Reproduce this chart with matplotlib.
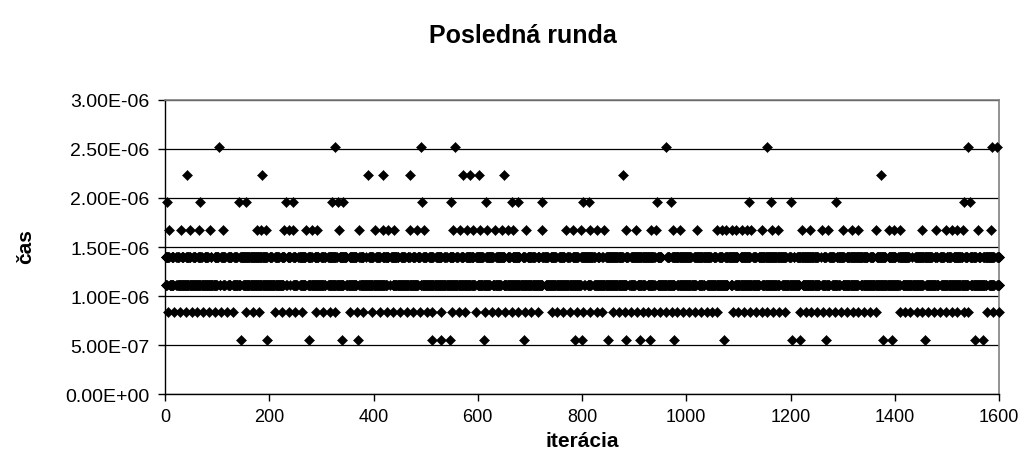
import matplotlib
matplotlib.use("Agg")
import matplotlib.pyplot as plt
from matplotlib.ticker import FuncFormatter, MultipleLocator

plt.rcParams['font.family'] = ['Liberation Sans', 'DejaVu Sans']

# measured times per iteration (seconds), one row per timer step
levels = [5.59e-07, 8.38e-07, 1.117e-06, 1.397e-06,
          1.676e-06, 1.956e-06, 2.235e-06, 2.514e-06]

iter_559 = [145, 195, 276, 339, 370, 512, 529, 547, 611, 689, 787, 800,
            850, 884, 912, 930, 977, 1073, 1202, 1218, 1268, 1378, 1394,
            1458, 1554, 1570]

iter_838 = [6, 17, 29, 40, 51, 62, 73, 85, 96, 107, 118, 130, 155, 168,
            181, 211, 224, 237, 249, 262, 290, 304, 317, 326, 355, 368, 380,
            397, 412, 425, 438, 451, 464, 476, 489, 502, 513, 529, 550, 563,
            576, 597, 614, 627, 639, 652, 665, 678, 691, 703, 716, 742, 751,
            764, 777, 790, 802, 815, 828, 838, 860, 871, 882, 893, 905, 916,
            927, 938, 950, 961, 972, 983, 994, 1006, 1017, 1028, 1039, 1050,
            1059, 1089, 1100, 1111, 1122, 1134, 1145, 1155, 1167, 1178, 1189,
            1218, 1230, 1240, 1251, 1263, 1274, 1285, 1296, 1308, 1319, 1330,
            1341, 1352, 1364, 1409, 1420, 1430, 1442, 1453, 1464, 1475, 1487,
            1498, 1509, 1520, 1532, 1541, 1576, 1589, 1600]

iter_1676 = [8, 30, 48, 66, 86, 112, 177, 185, 194, 228, 237, 246, 270, 281,
             292, 334, 373, 402, 419, 428, 439, 469, 483, 496, 553, 566, 579,
             591, 604, 617, 633, 646, 658, 668, 692, 724, 770, 783, 798, 815,
             828, 842, 885, 903, 932, 942, 975, 988, 1020, 1058, 1068, 1077,
             1087, 1096, 1106, 1116, 1125, 1145, 1164, 1176, 1221, 1237, 1261,
             1272, 1300, 1317, 1330, 1364, 1388, 1398, 1410, 1453, 1479, 1499,
             1509, 1519, 1530, 1559, 1584]

iter_1956 = [4, 68, 141, 155, 232, 246, 320, 331, 341, 493, 548, 616, 665,
             678, 724, 801, 814, 943, 970, 1121, 1163, 1201, 1288, 1532, 1544]

iter_2235 = [42, 186, 390, 419, 469, 572, 586, 603, 650, 879, 1374]

iter_2514 = [104, 326, 492, 556, 961, 1154, 1541, 1586, 1596]

# the 1.12E-06 and 1.40E-06 rows are hit almost every iteration;
# these are the few iterations where each row has a break
gaps_1117 = [6, 19, 102, 109, 118, 128, 147, 230, 237, 243, 256, 272, 310,
             345, 370, 428, 434, 488, 597, 626, 647, 727, 801, 808, 820, 888,
             904, 923, 942, 980, 1021, 1037, 1082, 1091, 1143, 1181, 1220,
             1258, 1277, 1297, 1332, 1412, 1457, 1486, 1543, 1578, 1593]

gaps_1397 = [10, 19, 29, 38, 51, 61, 73, 85, 92, 105, 118, 130, 141, 198,
             208, 221, 232, 243, 253, 272, 284, 297, 310, 332, 351, 370, 383,
             389, 402, 415, 431, 450, 463, 472, 482, 492, 504, 517, 533, 543,
             556, 565, 575, 594, 613, 632, 654, 664, 683, 693, 712, 721, 737,
             753, 769, 779, 795, 827, 836, 843, 881, 891, 942, 955, 960, 970,
             1012, 1050, 1060, 1072, 1101, 1125, 1136, 1194, 1203, 1210, 1255,
             1261, 1271, 1286, 1305, 1350, 1362, 1385, 1404, 1430, 1436, 1474,
             1484, 1497, 1510, 1532, 1542, 1558, 1567, 1593]

n_iter = 1600


def dense_row(gaps):
    return [i for i in range(1, n_iter + 1)
            if all(abs(i - g) > 2 for g in gaps)]


rows = [iter_559, iter_838, dense_row(gaps_1117), dense_row(gaps_1397),
        iter_1676, iter_1956, iter_2235, iter_2514]

fig = plt.figure(figsize=(10.25, 4.77), dpi=100)
ax = fig.add_axes([0.161, 0.171, 0.8137, 0.618])

for xs, lev in zip(rows, levels):
    ax.plot(xs, [lev] * len(xs), linestyle='none', marker='D', ms=4.6,
            mfc='black', mec='black', mew=0.4, clip_on=False, zorder=3)

ax.set_xlim(0, 1600)
ax.set_ylim(0, 3e-6)
ax.xaxis.set_major_locator(MultipleLocator(200))
ax.yaxis.set_major_locator(MultipleLocator(5e-7))
ax.yaxis.set_major_formatter(FuncFormatter(lambda v, p: f"{v:.2E}"))

ax.grid(axis='y', color='black', linewidth=0.9)
ax.set_axisbelow(True)
for side in ('top', 'right'):
    ax.spines[side].set_color('#808080')
    ax.spines[side].set_linewidth(1.2)
for side in ('left', 'bottom'):
    ax.spines[side].set_color('black')
    ax.spines[side].set_linewidth(1.0)

ax.tick_params(direction='out', length=5, width=1)
ax.tick_params(axis='y', pad=6, labelsize=14)
ax.tick_params(axis='x', pad=5, labelsize=13)

fig.text(0.51, 0.925, 'Posledná runda', ha='center', va='center',
         fontsize=18, fontweight='bold')
fig.text(0.568, 0.075, 'iterácia', ha='center', va='center',
         fontsize=15, fontweight='bold')
fig.text(0.025, 0.483, 'čas', ha='center', va='center', rotation=90,
         fontsize=15, fontweight='bold')

fig.savefig('out.png', dpi=100, facecolor='white')
